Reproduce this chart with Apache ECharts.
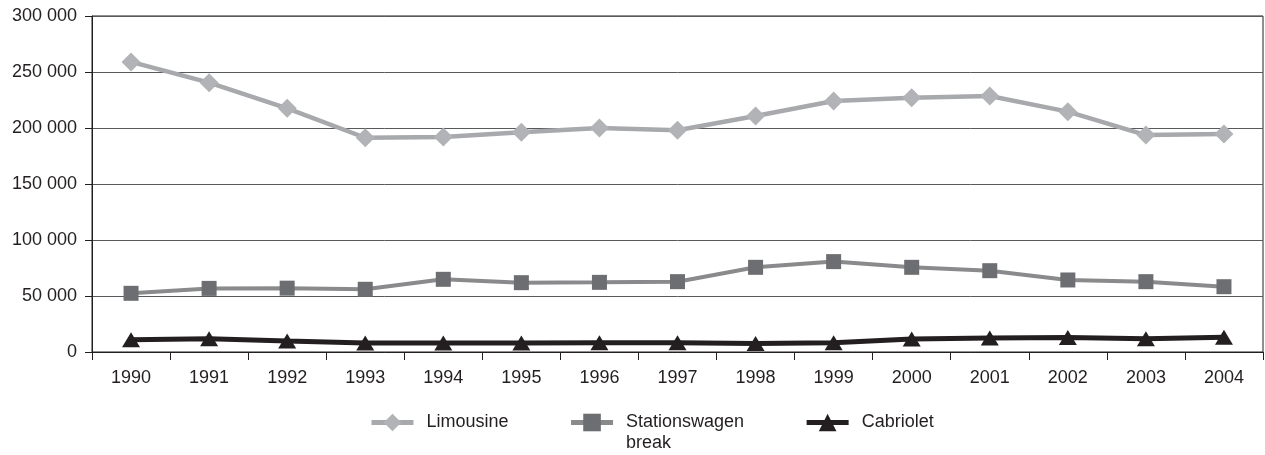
<!DOCTYPE html>
<html>
<head>
<meta charset="utf-8">
<script src="https://cdn.jsdelivr.net/npm/echarts@6/dist/echarts.min.js"></script>
<style>
html,body{margin:0;padding:0;background:#fff;}
#chart{width:1265px;height:455px;}
</style>
</head>
<body>
<div id="chart"></div>
<script>
const years = ['1990','1991','1992','1993','1994','1995','1996','1997','1998','1999','2000','2001','2002','2003','2004'];
const limousine = [259000, 240500, 217600, 191300, 192000, 196100, 200000, 198000, 210700, 224100, 227000, 228600, 214600, 193700, 194600];
const stationswagen = [52400, 56800, 57000, 56000, 64900, 61900, 62200, 62800, 75600, 80700, 75600, 72600, 64300, 62800, 58300];
const cabriolet = [11000, 11800, 9800, 8000, 8000, 8000, 8200, 8200, 7600, 8300, 11500, 12600, 13000, 11800, 13200];
const seriesNames = ['Limousine', 'Stationswagen\nbreak', 'Cabriolet'];

const FONT = '"Liberation Sans", Arial, Helvetica, sans-serif';
const chart = echarts.init(document.getElementById('chart'), null, {renderer: 'canvas'});

function fmt(v) {
  return String(v).replace(/\B(?=(\d{3})+(?!\d))/g, ' ');
}

chart.setOption({
  animation: false,
  backgroundColor: '#ffffff',
  textStyle: {fontFamily: FONT},
  grid: {
    left: 92, right: 2, top: 16, bottom: 103,
    show: true, borderColor: '#231f20', borderWidth: 1,
    outerBoundsMode: 'none'
  },
  legend: {
    orient: 'horizontal',
    left: 364,
    top: 386,
    itemWidth: 42,
    itemHeight: 22,
    itemGap: 60,
    lineStyle: {width: 5},
    formatter: function (name) {
      return name.indexOf('\n') >= 0 ? '\n' + name : name;
    },
    textStyle: {fontFamily: FONT, fontSize: 18, lineHeight: 21, color: '#231f20', padding: [0, 0, 0, 8]},
    data: seriesNames
  },
  xAxis: {
    type: 'category',
    data: years,
    boundaryGap: true,
    axisLine: {show: true, lineStyle: {color: '#231f20', width: 1}},
    axisTick: {show: true, length: 8, alignWithLabel: false, lineStyle: {color: '#231f20'}},
    axisLabel: {fontFamily: FONT, fontSize: 18, color: '#231f20', margin: 17},
    splitLine: {show: false}
  },
  yAxis: {
    type: 'value',
    min: 0, max: 300000, interval: 50000,
    axisLine: {show: true, lineStyle: {color: '#231f20', width: 1}},
    axisTick: {show: true, length: 7, lineStyle: {color: '#231f20'}},
    axisLabel: {fontFamily: FONT, fontSize: 18, color: '#231f20', margin: 15, formatter: fmt},
    splitLine: {show: true, lineStyle: {color: '#58595b', width: 1}}
  },
  series: [
    {
      name: seriesNames[0], type: 'line', data: limousine,
      symbol: 'diamond', symbolSize: 19,
      lineStyle: {color: '#a7a9ac', width: 4.5},
      itemStyle: {color: '#b1b3b6'},
      z: 3
    },
    {
      name: seriesNames[1], type: 'line', data: stationswagen,
      symbol: 'rect', symbolSize: 15,
      lineStyle: {color: '#8a8a8d', width: 4},
      itemStyle: {color: '#6d6e71'},
      z: 4
    },
    {
      name: seriesNames[2], type: 'line', data: cabriolet,
      symbol: 'triangle', symbolSize: [18, 15],
      lineStyle: {color: '#231f20', width: 5},
      itemStyle: {color: '#231f20'},
      z: 5
    }
  ]
});
</script>
</body>
</html>
